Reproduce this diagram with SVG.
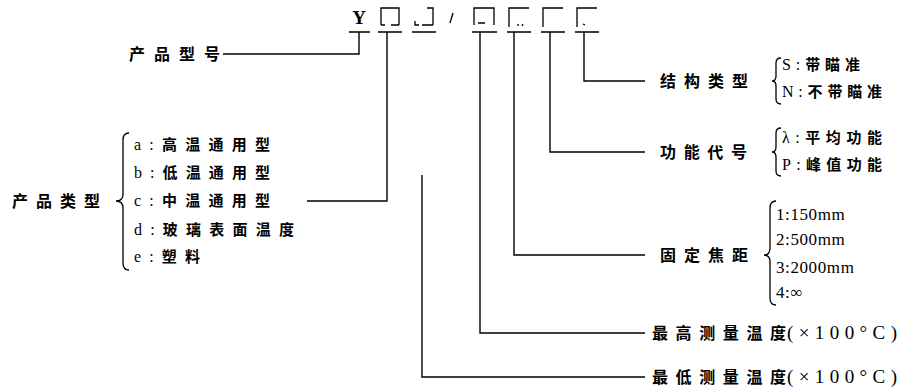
<svg xmlns="http://www.w3.org/2000/svg" width="903" height="392" viewBox="0 0 903 392">
<style>
.ln{stroke:#000;stroke-width:1.4;fill:none}
.bx{stroke:#000;stroke-width:1.3;fill:none}
.br{stroke:#000;stroke-width:1.3;fill:none}
.lb{font-family:"Liberation Serif","Noto Sans CJK SC",serif;font-size:16px;font-weight:bold;fill:#000}
.it{font-family:"Liberation Serif","Noto Sans CJK SC",serif;font-size:15px;font-weight:bold;fill:#000}
.lt{font-weight:normal;font-size:16px}
.nm{font-family:"Liberation Serif","Noto Sans CJK SC",serif;font-size:17px;letter-spacing:0.6px;fill:#000}
.pr{font-family:"Liberation Serif","Noto Sans CJK SC",serif;font-size:19px;fill:#000}
</style>
<rect width="903" height="392" fill="#fff"/>
<g id="code">
<text x="359" y="24" text-anchor="middle" style="font-family:'Liberation Serif',serif;font-size:19px;font-weight:bold">Y</text>
<path class="bx" d="M381 25 V8 H399 V25 M381 25 H385 M391 25 H399"/>
<path class="bx" d="M427 8 H433 V25 M415 21 V25 H419 M422 25 H433"/>
<path class="bx" d="M453 13 L450 23"/>
<path class="bx" d="M474 25 V8 H494 V25 M478 23 H485"/>
<path class="bx" d="M509 27 V8 H529 M518 24 V26 M523 24 L522 26"/>
<path class="bx" d="M543 27 V8 H563"/>
<path class="bx" d="M577 27 V8 H597 M583 24 L585 25"/>
<path class="ln" d="M349 32 H370 M378 32 H402 M412 32 H436 M472 32 H497 M507 32 H531 M541 32 H565 M575 32 H599"/>
</g>
<g id="connectors">
<path class="ln" d="M223 54 H359 V32"/>
<path class="ln" d="M307 201 H387 V32"/>
<path class="ln" d="M422 175 V377 H645"/>
<path class="ln" d="M480 32 V333 H645"/>
<path class="ln" d="M514 32 V255 H645"/>
<path class="ln" d="M550 32 V152 H645"/>
<path class="ln" d="M584 32 V81 H645"/>
</g>
<g id="model">
<text class="lb" x="129" y="60" textLength="91" lengthAdjust="spacing">产品型号</text>
</g>
<g id="type">
<text class="lb" x="12" y="207" textLength="88" lengthAdjust="spacing">产品类型</text>
<path class="br" d="M129 133 Q123 133 123 140 L123 194 Q123 201 116 201 Q123 201 123 208 L123 263 Q123 270 129 270"/>
<text class="it" x="134" y="150" textLength="136" lengthAdjust="spacing"><tspan class="lt">a:</tspan>高温通用型</text>
<text class="it" x="134" y="178" textLength="136" lengthAdjust="spacing"><tspan class="lt">b:</tspan>低温通用型</text>
<text class="it" x="134" y="206" textLength="136" lengthAdjust="spacing"><tspan class="lt">c:</tspan>中温通用型</text>
<text class="it" x="134" y="235" textLength="160" lengthAdjust="spacing"><tspan class="lt">d:</tspan>玻璃表面温度</text>
<text class="it" x="134" y="262" textLength="66" lengthAdjust="spacing"><tspan class="lt">e:</tspan>塑料</text>
</g>
<g id="structure">
<text class="lb" x="660" y="87" textLength="88" lengthAdjust="spacing">结构类型</text>
<path class="br" d="M781 58 Q776 58 776 63 L776 76 Q776 81 772 81 Q776 81 776 86 L776 99 Q776 104 781 104"/>
<text class="it" x="782" y="70" textLength="78" lengthAdjust="spacing"><tspan class="lt">S:</tspan>带瞄准</text>
<text class="it" x="782" y="97" textLength="100" lengthAdjust="spacing"><tspan class="lt">N:</tspan>不带瞄准</text>
</g>
<g id="function">
<text class="lb" x="660" y="158" textLength="87" lengthAdjust="spacing">功能代号</text>
<path class="br" d="M781 128 Q776 128 776 133 L776 147 Q776 152 772 152 Q776 152 776 157 L776 171 Q776 176 781 176"/>
<text class="it" x="782" y="143" textLength="100" lengthAdjust="spacing"><tspan class="lt">λ:</tspan>平均功能</text>
<text class="it" x="782" y="170" textLength="100" lengthAdjust="spacing"><tspan class="lt">P:</tspan>峰值功能</text>
</g>
<g id="focus">
<text class="lb" x="660" y="261" textLength="88" lengthAdjust="spacing">固定焦距</text>
<path class="br" d="M776 201 Q770 201 770 208 L770 248 Q770 255 764 255 Q770 255 770 262 L770 298 Q770 305 776 305"/>
<text class="nm" x="776" y="220">1:150mm</text>
<text class="nm" x="776" y="245">2:500mm</text>
<text class="nm" x="776" y="273">3:2000mm</text>
<text class="nm" x="776" y="298">4:∞</text>
</g>
<g id="tmax">
<text class="lb" x="652" y="339" textLength="134" lengthAdjust="spacing">最高测量温度</text>
<text class="pr" x="787" y="339" textLength="110" lengthAdjust="spacing">(×100°C)</text>
</g>
<g id="tmin">
<text class="lb" x="652" y="383" textLength="134" lengthAdjust="spacing">最低测量温度</text>
<text class="pr" x="787" y="383" textLength="110" lengthAdjust="spacing">(×100°C)</text>
</g>
</svg>
